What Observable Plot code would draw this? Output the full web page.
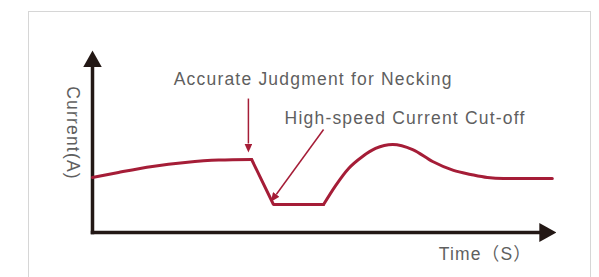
<!DOCTYPE html>
<html>
<head>
<meta charset="utf-8">
<script src="https://cdn.jsdelivr.net/npm/d3@7"></script>
<script src="https://cdn.jsdelivr.net/npm/@observablehq/plot@0.6"></script>
<style>
  html, body { margin: 0; padding: 0; background: #fff; }
  #wrap { position: relative; width: 599px; height: 277px; overflow: hidden; }
  #frame { position: absolute; left: 28px; top: 11px; width: 563px; height: 300px;
           border: 1.5px solid #d6d6d6; border-bottom: none; box-sizing: border-box; }
  #chart { position: absolute; left: 0; top: 0; }
</style>
</head>
<body>
<div id="wrap"><div id="frame"></div><div id="chart"></div></div>
<script>
// Current waveform (arbitrary units: time 0..100, current 0..100)
const time    = [0, 5.6, 12.9, 20.0, 27.2, 34.3,
                 34.3, 39.0, 49.8,
                 49.8, 52.4, 55.2, 58.2, 61.0, 64.7, 69.0, 73.3, 77.8, 81.5, 85.1, 88.6, 99.1];
const current = [30.2, 33.0, 36.3, 38.5, 39.8, 40.1,
                 40.1, 15.4, 15.4,
                 15.4, 25.8, 35.2, 41.8, 46.2, 48.4, 45.6, 39.0, 34.1, 31.9, 30.2, 29.7, 29.7];
const segment = ["steady","steady","steady","steady","steady","steady",
                 "cutoff","cutoff","cutoff",
                 "recover","recover","recover","recover","recover","recover","recover","recover","recover","recover","recover","recover","recover"];

// Annotation labels
const labelText    = ["Accurate Judgment for Necking", "High-speed Current Cut-off", "Time（S）"];
const labelTime    = [17.5, 41.4, 74.6];
const labelCurrent = [84.4, 62.9, -12.3];
const yLabel = ["Current(A)"];

// Annotation arrows (start -> tip)
const arrowX1 = [33.6, 49.8];
const arrowY1 = [73.6, 56.6];
const arrowX2 = [33.6, 39.6];
const arrowY2 = [48.9, 20.9];

// Axis arrows (origin -> base of head); head extends to 100
const axisX1 = [0, 0];
const axisY1 = [0, 0];
const axisX2 = [0, 96.3];
const axisY2 = [90.7, 0];

const waveColor = "#a51d37";
const axisColor = "#231815";
const textColor = "#5f5f5f";

const data = time.map((t, i) => ({t, c: current[i], seg: segment[i]}));
const labels = labelText.map((s, i) => ({s, t: labelTime[i], c: labelCurrent[i]}));
const arrows = arrowX1.map((x, i) => ({x1: x, y1: arrowY1[i], x2: arrowX2[i], y2: arrowY2[i]}));
const axes = axisX1.map((x, i) => ({x1: x, y1: axisY1[i], x2: axisX2[i], y2: axisY2[i]}));

function head(len, wid, refX) {
  return (color, context) => {
    const ns = "http://www.w3.org/2000/svg";
    const doc = context.document;
    const m = doc.createElementNS(ns, "marker");
    m.setAttribute("viewBox", `0 ${-wid / 2} ${len} ${wid}`);
    m.setAttribute("markerWidth", len);
    m.setAttribute("markerHeight", wid);
    m.setAttribute("markerUnits", "userSpaceOnUse");
    m.setAttribute("orient", "auto");
    m.setAttribute("refX", refX);
    m.setAttribute("refY", 0);
    m.setAttribute("fill", color);
    m.setAttribute("stroke", "none");
    const p = doc.createElementNS(ns, "path");
    p.setAttribute("d", `M0,${-wid / 2}L${len},0L0,${wid / 2}Z`);
    m.appendChild(p);
    return m;
  };
}

const chart = Plot.plot({
  width: 599,
  height: 277,
  marginLeft: 92,
  marginRight: 43,
  marginTop: 50,
  marginBottom: 45,
  x: {domain: [0, 100], axis: null},
  y: {domain: [0, 100], axis: null},
  style: {fontFamily: "'Liberation Sans', 'Noto Sans CJK JP', sans-serif", fontSize: "17.5px", letterSpacing: "1.2px", background: "transparent", overflow: "visible"},
  marks: [
    Plot.link(axes, {x1: "x1", y1: "y1", x2: "x2", y2: "y2", stroke: axisColor, strokeWidth: 3.5, strokeLinecap: "square", markerEnd: head(17, 19, 0)}),
    Plot.line(data, {filter: d => d.seg !== "cutoff", x: "t", y: "c", z: "seg", stroke: waveColor, strokeWidth: 3, curve: "monotone-x"}),
    Plot.line(data, {filter: d => d.seg === "cutoff", x: "t", y: "c", stroke: waveColor, strokeWidth: 3, strokeLinejoin: "miter"}),
    Plot.link(arrows, {x1: "x1", y1: "y1", x2: "x2", y2: "y2", stroke: waveColor, strokeWidth: 1.5, markerEnd: head(9, 8, 0)}),
    Plot.text(labels, {x: "t", y: "c", text: "s", textAnchor: "start", fill: textColor}),
    Plot.text(yLabel, {frameAnchor: "left", textAnchor: "middle", dx: -20, dy: -8.5, rotate: 90, fill: textColor})
  ]
});
document.getElementById("chart").appendChild(chart);
</script>
</body>
</html>
